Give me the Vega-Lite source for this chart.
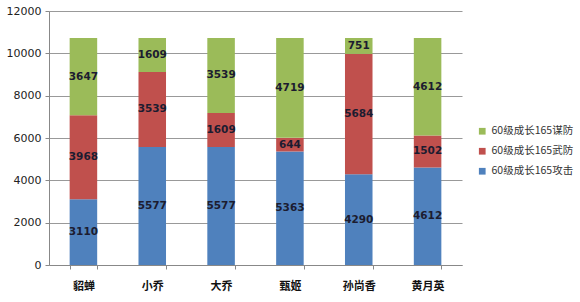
{
  "$schema": "https://vega.github.io/schema/vega-lite/v6.json",
  "width": 413,
  "height": 254,
  "autosize": {"type": "none"},
  "padding": {"left": 49, "top": 11, "right": 118, "bottom": 37},
  "background": "white",
  "config": {"view": {"stroke": null}, "font": "Noto Sans CJK SC"},
  "data": {"values": [
    {"hero": "貂蝉", "series": "60级成长165攻击", "value": 3110},
    {"hero": "貂蝉", "series": "60级成长165武防", "value": 3968},
    {"hero": "貂蝉", "series": "60级成长165谋防", "value": 3647},
    {"hero": "小乔", "series": "60级成长165攻击", "value": 5577},
    {"hero": "小乔", "series": "60级成长165武防", "value": 3539},
    {"hero": "小乔", "series": "60级成长165谋防", "value": 1609},
    {"hero": "大乔", "series": "60级成长165攻击", "value": 5577},
    {"hero": "大乔", "series": "60级成长165武防", "value": 1609},
    {"hero": "大乔", "series": "60级成长165谋防", "value": 3539},
    {"hero": "甄姬", "series": "60级成长165攻击", "value": 5363},
    {"hero": "甄姬", "series": "60级成长165武防", "value": 644},
    {"hero": "甄姬", "series": "60级成长165谋防", "value": 4719},
    {"hero": "孙尚香", "series": "60级成长165攻击", "value": 4290},
    {"hero": "孙尚香", "series": "60级成长165武防", "value": 5684},
    {"hero": "孙尚香", "series": "60级成长165谋防", "value": 751},
    {"hero": "黄月英", "series": "60级成长165攻击", "value": 4612},
    {"hero": "黄月英", "series": "60级成长165武防", "value": 1502},
    {"hero": "黄月英", "series": "60级成长165谋防", "value": 4612}
  ]},
  "encoding": {
    "x": {
      "field": "hero", "type": "nominal", "sort": null,
      "scale": {"paddingInner": 0.6, "paddingOuter": 0.3},
      "axis": {
        "title": null, "labelAngle": 0, "tickBand": "extent",
        "domainColor": "#888", "tickColor": "#888", "tickSize": 4,
        "labelFontSize": 11, "labelFontWeight": "bold", "labelColor": "#111",
        "labelPadding": 11, "labelFont": "Noto Sans CJK SC"
      }
    },
    "y": {
      "field": "value", "type": "quantitative", "stack": "zero",
      "scale": {"domain": [0, 12000], "nice": false},
      "axis": {
        "title": null, "values": [0, 2000, 4000, 6000, 8000, 10000, 12000],
        "format": "d", "gridColor": "#999999", "gridWidth": 1,
        "domainColor": "#888", "tickColor": "#888", "tickSize": 4,
        "labelFontSize": 11, "labelColor": "#222", "labelFont": "DejaVu Sans",
        "labelPadding": 4
      }
    },
    "order": {"field": "series", "sort": "ascending"}
  },
  "layer": [
    {
      "mark": {"type": "bar"},
      "encoding": {
        "color": {
          "field": "series", "type": "nominal",
          "sort": ["60级成长165谋防", "60级成长165武防", "60级成长165攻击"],
          "scale": {
            "domain": ["60级成长165谋防", "60级成长165武防", "60级成长165攻击"],
            "range": ["#9BBB59", "#C0504D", "#4F81BD"]
          },
          "legend": {
            "title": null, "orient": "none", "legendX": 428, "legendY": 115,
            "symbolType": "square", "symbolSize": 45, "symbolStrokeWidth": 0,
            "labelFontSize": 10.5, "labelColor": "#333", "labelFont": "Noto Sans CJK SC",
            "labelOffset": 4, "rowPadding": 9, "padding": 0, "labelLimit": 150
          }
        }
      }
    },
    {
      "mark": {"type": "text", "fontSize": 10.5, "fontWeight": "bold", "color": "#1c1c30", "font": "DejaVu Sans"},
      "encoding": {
        "y": {"field": "value", "type": "quantitative", "stack": "zero", "bandPosition": 0.5},
        "text": {"field": "value", "type": "quantitative", "format": "d"}
      }
    }
  ]
}
